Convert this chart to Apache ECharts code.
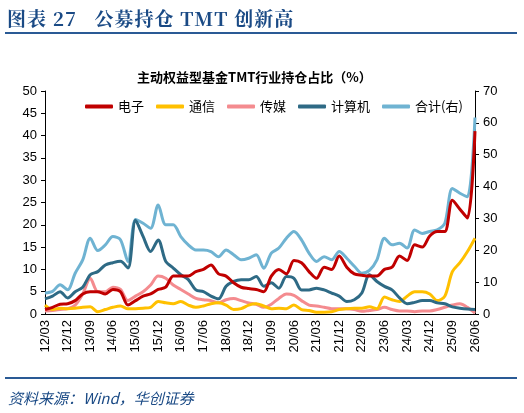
<!DOCTYPE html>
<html>
<head>
<meta charset="utf-8">
<script src="https://cdn.jsdelivr.net/npm/echarts@6/dist/echarts.min.js"></script>
<style>
  body { margin: 0; background: #fff; }
  #wrap { position: relative; width: 524px; height: 413px; overflow: hidden; }
  #chart { position: absolute; left: 0; top: 0; width: 524px; height: 413px; }
  .head { position: absolute; left: 7px; top: 4px; font: bold 19px "Noto Serif CJK SC", "Noto Sans CJK SC", serif; color: #1a4a85; letter-spacing: 1px; }
  .rule { position: absolute; left: 5px; width: 512px; height: 2px; background: #2a5a95; }
  .foot { position: absolute; left: 8px; top: 387px; font: italic 15px "Noto Sans CJK SC", serif; color: #1a4a85; }
</style>
</head>
<body>
<div id="wrap">
  <div id="chart"></div>
  <div class="head">图表 27&nbsp;&nbsp;&nbsp;公募持仓 TMT 创新高</div>
  <div class="rule" style="top:32px"></div>
  <div class="rule" style="top:377px"></div>
  <div class="foot">资料来源：Wind，华创证券</div>
</div>
<script>
// 季度标签 12/03 ... 26/06
var quarters = [];
for (var y = 12; y <= 26; y++) {
    ["03", "06", "09", "12"].forEach(function (m) {
        if (y === 26 && (m === "09" || m === "12")) return;
        quarters.push(y + "/" + m);
    });
}
var dianzi = [1, 1.5, 2.2, 2.3, 3, 4.5, 5, 5, 4.5, 5.5, 5, 2, 3, 4, 4.5, 5.5, 6, 8.5, 8.5, 8.5, 9.5, 10, 11, 9, 8.5, 7, 6, 5.7, 5.5, 5, 8.5, 10, 9, 12, 11.5, 9.5, 8, 10.5, 10, 13, 10.5, 9, 8.7, 8.5, 8.5, 10, 10.5, 13, 12, 15.5, 15, 17.5, 18.5, 18.5, 25.5, 23.5, 21.5, 41];
var tongxin = [2, 1, 1.3, 1.2, 1.3, 1.5, 1.6, 0.5, 1, 1.5, 1.8, 1.2, 1.2, 1.3, 1.5, 2.8, 2.5, 2.3, 2.8, 2, 1.5, 1.8, 2.3, 2.5, 2, 1, 1.2, 2, 2.3, 1.8, 1.2, 1.3, 1.2, 2, 1, 0.8, 0.4, 0.4, 0.5, 1, 1.2, 1.3, 1.3, 1.6, 1.2, 3.8, 3.2, 2.8, 4, 5, 5, 4.5, 3, 4, 9.5, 11.5, 14, 17];
var chuanmei = [0.7, 0.8, 1, 1.2, 2, 4.5, 8, 5, 5, 6, 5.5, 3, 4, 5, 6.5, 8.5, 8, 6.5, 5.5, 4.5, 3.5, 3.2, 3, 2.5, 3.2, 3.5, 3, 2.5, 2.2, 1.5, 2.2, 3.5, 4.5, 4.2, 3, 2, 1.8, 1.5, 1.2, 1.2, 1.2, 1, 0.6, 0.8, 1, 1.5, 1, 0.7, 0.7, 0.5, 0.7, 0.7, 1, 1.5, 2, 2.3, 1.5, 0.2];
var jisuanji = [3.4, 4, 5, 3.6, 5, 6, 8.8, 9.5, 11, 11.5, 11.8, 10.3, 21, 17.4, 14, 16.6, 11.8, 10.3, 8.8, 7.7, 5.4, 5, 4, 3.4, 6.2, 7.3, 7.7, 7.7, 8.4, 6.2, 7, 5.8, 8.4, 8, 5.4, 5.4, 5.8, 5.4, 4.7, 4, 2.8, 3.2, 4.7, 8.8, 7.3, 6.2, 5.4, 3.6, 2.3, 2.6, 3, 3, 2.5, 2.3, 1.6, 1.3, 1.1, 1];
var heji = [6.6, 7.1, 9.2, 7.6, 12.8, 17, 23.8, 19.9, 21.7, 24.3, 23.3, 16.5, 29.7, 28.5, 26.9, 34.2, 28, 28, 24.3, 21.7, 20.1, 20.1, 19.6, 18, 20.1, 18.6, 17, 17.5, 18.6, 14.4, 19.1, 20.7, 23.8, 25.9, 23.3, 19.1, 16.5, 18, 17, 19.6, 17.5, 15, 12.8, 13.7, 17, 23.8, 21.7, 22.2, 20.7, 26.4, 25.3, 25.9, 26.4, 28.5, 39.4, 37.9, 36.8, 61.7];

var chart = echarts.init(document.getElementById("chart"));
var axisFont = { color: "#000", fontSize: 13, fontFamily: "Liberation Sans, Arial" };
function line(name, data, color, yIdx) {
    return {
        name: name, type: "line", data: data, yAxisIndex: yIdx || 0,
        smooth: 0.3, symbol: "none",
        lineStyle: { color: color, width: 3 }, itemStyle: { color: color }
    };
}
chart.setOption({
    animation: false,
    title: {
        text: "主动权益型基金TMT行业持仓占比（%）", left: 132, top: 66,
        textStyle: { fontSize: 13, fontWeight: "bold", color: "#000", fontFamily: "Noto Sans CJK SC" }
    },
    legend: {
        top: 95, left: 80, itemWidth: 28, itemHeight: 4, itemGap: 12,
        icon: "roundRect",
        textStyle: { fontSize: 13, color: "#000", fontFamily: "Noto Sans CJK SC" },
        data: ["电子", "通信", "传媒", "计算机", "合计(右)"]
    },
    grid: { left: 45, right: 49, top: 91, bottom: 99 },
    xAxis: {
        type: "category", data: quarters, boundaryGap: false,
        axisLine: { lineStyle: { color: "#000" } },
        axisTick: { show: false },
        axisLabel: Object.assign({ rotate: 90, interval: 2, margin: 6 }, axisFont)
    },
    yAxis: [
        {
            type: "value", min: 0, max: 50, interval: 5, splitLine: { show: false },
            axisLine: { show: true, lineStyle: { color: "#000" } },
            axisTick: { show: true, length: 4, lineStyle: { color: "#000" } },
            axisLabel: axisFont
        },
        {
            type: "value", min: 0, max: 70, interval: 10, splitLine: { show: false },
            axisLine: { show: true, lineStyle: { color: "#000" } },
            axisTick: { show: true, length: 4, lineStyle: { color: "#000" } },
            axisLabel: axisFont
        }
    ],
    series: [
        line("合计(右)", heji, "#6fb3d2", 1),
        line("传媒", chuanmei, "#f48b8f"),
        line("通信", tongxin, "#ffc000"),
        line("计算机", jisuanji, "#2e6a85"),
        line("电子", dianzi, "#c00000")
    ]
});
</script>
</body>
</html>
